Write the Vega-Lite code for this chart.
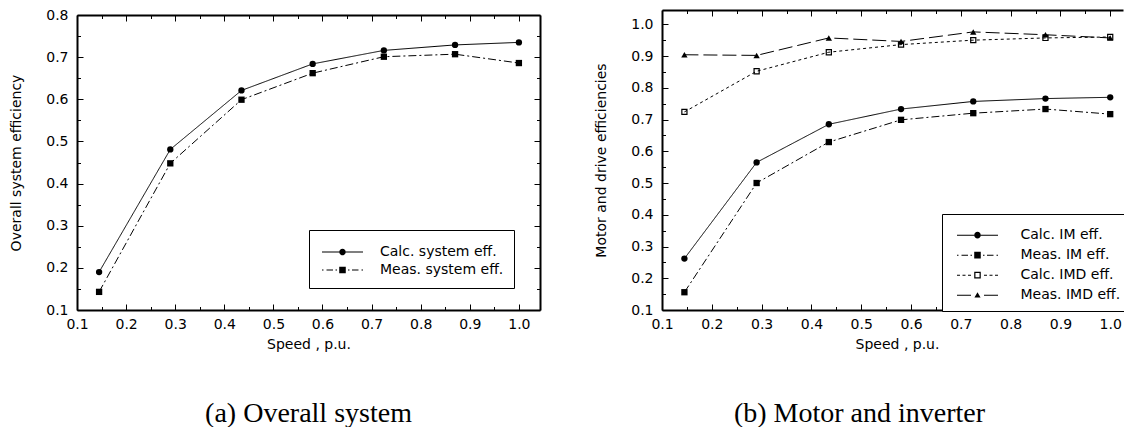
{
  "$schema": "https://vega.github.io/schema/vega-lite/v6.json",
  "background": "white",
  "padding": {"left": 9, "top": 8, "right": 0, "bottom": 0},
  "datasets": {
    "a": [
      {"speed": 0.145, "eff": 0.19, "series": "Calc. system eff."},
      {"speed": 0.29, "eff": 0.481, "series": "Calc. system eff."},
      {"speed": 0.435, "eff": 0.621, "series": "Calc. system eff."},
      {"speed": 0.58, "eff": 0.684, "series": "Calc. system eff."},
      {"speed": 0.725, "eff": 0.716, "series": "Calc. system eff."},
      {"speed": 0.87, "eff": 0.729, "series": "Calc. system eff."},
      {"speed": 1.0, "eff": 0.735, "series": "Calc. system eff."},
      {"speed": 0.145, "eff": 0.143, "series": "Meas. system eff."},
      {"speed": 0.29, "eff": 0.448, "series": "Meas. system eff."},
      {"speed": 0.435, "eff": 0.599, "series": "Meas. system eff."},
      {"speed": 0.58, "eff": 0.662, "series": "Meas. system eff."},
      {"speed": 0.725, "eff": 0.701, "series": "Meas. system eff."},
      {"speed": 0.87, "eff": 0.707, "series": "Meas. system eff."},
      {"speed": 1.0, "eff": 0.686, "series": "Meas. system eff."}
    ],
    "b": [
      {"speed": 0.145, "eff": 0.262, "series": "Calc. IM eff."},
      {"speed": 0.29, "eff": 0.565, "series": "Calc. IM eff."},
      {"speed": 0.435, "eff": 0.685, "series": "Calc. IM eff."},
      {"speed": 0.58, "eff": 0.733, "series": "Calc. IM eff."},
      {"speed": 0.725, "eff": 0.757, "series": "Calc. IM eff."},
      {"speed": 0.87, "eff": 0.766, "series": "Calc. IM eff."},
      {"speed": 1.0, "eff": 0.77, "series": "Calc. IM eff."},
      {"speed": 0.145, "eff": 0.156, "series": "Meas. IM eff."},
      {"speed": 0.29, "eff": 0.5, "series": "Meas. IM eff."},
      {"speed": 0.435, "eff": 0.629, "series": "Meas. IM eff."},
      {"speed": 0.58, "eff": 0.699, "series": "Meas. IM eff."},
      {"speed": 0.725, "eff": 0.72, "series": "Meas. IM eff."},
      {"speed": 0.87, "eff": 0.733, "series": "Meas. IM eff."},
      {"speed": 1.0, "eff": 0.717, "series": "Meas. IM eff."},
      {"speed": 0.145, "eff": 0.724, "series": "Calc. IMD eff."},
      {"speed": 0.29, "eff": 0.852, "series": "Calc. IMD eff."},
      {"speed": 0.435, "eff": 0.912, "series": "Calc. IMD eff."},
      {"speed": 0.58, "eff": 0.936, "series": "Calc. IMD eff."},
      {"speed": 0.725, "eff": 0.95, "series": "Calc. IMD eff."},
      {"speed": 0.87, "eff": 0.957, "series": "Calc. IMD eff."},
      {"speed": 1.0, "eff": 0.96, "series": "Calc. IMD eff."},
      {"speed": 0.145, "eff": 0.904, "series": "Meas. IMD eff."},
      {"speed": 0.29, "eff": 0.902, "series": "Meas. IMD eff."},
      {"speed": 0.435, "eff": 0.957, "series": "Meas. IMD eff."},
      {"speed": 0.58, "eff": 0.946, "series": "Meas. IMD eff."},
      {"speed": 0.725, "eff": 0.976, "series": "Meas. IMD eff."},
      {"speed": 0.87, "eff": 0.967, "series": "Meas. IMD eff."},
      {"speed": 1.0, "eff": 0.957, "series": "Meas. IMD eff."}
    ]
  },
  "spacing": 53,
  "resolve": {"scale": {"shape": "independent", "strokeDash": "independent"}},
  "hconcat": [
    {
      "spacing": 0,
      "bounds": "flush",
      "vconcat": [
        {"width": 10, "height": 5, "data": {"values": []}, "mark": "point"},
        {
          "width": 463,
          "height": 295,
          "title": {"text": "(a) Overall system", "orient": "bottom", "offset": 48, "anchor": "middle"},
          "data": {"name": "a"},
          "layer": [
            {
              "mark": {"type": "line", "color": "black", "strokeWidth": 1},
              "encoding": {
                "x": {"field": "speed", "type": "quantitative",
                  "scale": {"domain": [0.1, 1.043], "nice": false, "zero": false},
                  "axis": {"orient": "bottom", "values": [0.1,0.15,0.2,0.25,0.3,0.35,0.4,0.45,0.5,0.55,0.6,0.65,0.7,0.75,0.8,0.85,0.9,0.95,1.0],
                    "labelExpr": "abs(datum.value*10 - round(datum.value*10)) < 0.001 ? format(datum.value, '.1f') : ''",
                    "tickSize": {"condition": {"test": "abs(datum.value*10 - round(datum.value*10)) < 0.001", "value": -6}, "value": -3.5},
                    "labelPadding": 13, "title": "Speed , p.u.", "titlePadding": 4}},
                "y": {"field": "eff", "type": "quantitative",
                  "scale": {"domain": [0.1, 0.8], "nice": false, "zero": false},
                  "axis": {"orient": "left", "values": [0.1,0.15,0.2,0.25,0.3,0.35,0.4,0.45,0.5,0.55,0.6,0.65,0.7,0.75,0.8],
                    "labelExpr": "abs(datum.value*10 - round(datum.value*10)) < 0.001 ? format(datum.value, '.1f') : ''",
                    "tickSize": {"condition": {"test": "abs(datum.value*10 - round(datum.value*10)) < 0.001", "value": -6}, "value": -3.5},
                    "labelPadding": 15, "title": "Overall system efficiency", "titlePadding": 22}},
                "strokeDash": {"field": "series", "type": "nominal",
                  "scale": {"domain": ["Calc. system eff.", "Meas. system eff."], "range": [[1, 0], [8, 3, 2, 3]]},
                  "legend": null}
              }
            },
            {
              "mark": {"type": "point", "filled": true, "color": "black", "opacity": 1, "size": 40, "strokeWidth": 0},
              "encoding": {
                "x": {"field": "speed", "type": "quantitative", "axis": null},
                "y": {"field": "eff", "type": "quantitative", "axis": null},
                "shape": {"field": "series", "type": "nominal",
                  "scale": {"domain": ["Calc. system eff.", "Meas. system eff."], "range": ["circle", "square"]},
                  "legend": null}
              }
            },
            {
              "transform": [{"filter": "false"}],
              "mark": {"type": "point", "filled": true, "color": "black", "opacity": 1, "strokeWidth": 0},
              "encoding": {
                "x": {"field": "speed", "type": "quantitative",
                  "axis": {"orient": "top", "values": [0.1,0.15,0.2,0.25,0.3,0.35,0.4,0.45,0.5,0.55,0.6,0.65,0.7,0.75,0.8,0.85,0.9,0.95,1.0],
                    "labels": false, "title": null,
                    "tickSize": {"condition": {"test": "abs(datum.value*10 - round(datum.value*10)) < 0.001", "value": -6}, "value": -3.5}}},
                "y": {"field": "eff", "type": "quantitative",
                  "axis": {"orient": "right", "values": [0.1,0.15,0.2,0.25,0.3,0.35,0.4,0.45,0.5,0.55,0.6,0.65,0.7,0.75,0.8],
                    "labels": false, "title": null,
                    "tickSize": {"condition": {"test": "abs(datum.value*10 - round(datum.value*10)) < 0.001", "value": -6}, "value": -3.5}}},
                "shape": {"field": "series", "type": "nominal",
                  "scale": {"domain": ["Calc. system eff.", "Meas. system eff."],
                    "range": [
                      "M-1,-0.025H-0.16V0.025H-1Z M0.16,-0.025H1V0.025H0.16Z M0.16,0A0.16,0.16 0 1,1 -0.16,0A0.16,0.16 0 1,1 0.16,0Z",
                      "M-1,-0.025H-0.927V0.025H-1Z M-0.78,-0.025H-0.463V0.025H-0.78Z M-0.341,-0.025H-0.268V0.025H-0.341Z M-0.16,-0.16H0.16V0.16H-0.16Z M0.268,-0.025H0.341V0.025H0.268Z M0.463,-0.025H0.78V0.025H0.463Z M0.927,-0.025H1V0.025H0.927Z"
                    ]},
                  "legend": {"orient": "none", "legendX": 232, "legendY": 215, "title": " ", "titleFontSize": 3, "titlePadding": 1,
                    "padding": 10, "strokeColor": "black", "fillColor": "white", "symbolSize": 1681, "clipHeight": 16,
                    "symbolOffset": 3, "labelOffset": 17, "symbolStrokeWidth": 0, "symbolFillColor": "black", "symbolOpacity": 1,
                    "labelExpr": "datum.label + '   '"}}
              }
            }
          ],
          "resolve": {"scale": {"shape": "independent"}, "axis": {"x": "independent", "y": "independent"}}
        }
      ]
    },
    {
      "width": 461,
      "height": 300,
      "title": {"text": "(b) Motor and inverter", "orient": "bottom", "offset": 48, "anchor": "middle", "dx": -33},
      "data": {"name": "b"},
      "layer": [
        {
          "mark": {"type": "line", "color": "black", "strokeWidth": 1},
          "encoding": {
            "x": {"field": "speed", "type": "quantitative",
              "scale": {"domain": [0.1, 1.0257], "nice": false, "zero": false},
              "axis": {"orient": "bottom", "values": [0.1,0.15,0.2,0.25,0.3,0.35,0.4,0.45,0.5,0.55,0.6,0.65,0.7,0.75,0.8,0.85,0.9,0.95,1.0],
                "labelExpr": "abs(datum.value*10 - round(datum.value*10)) < 0.001 ? format(datum.value, '.1f') : ''",
                "tickSize": {"condition": {"test": "abs(datum.value*10 - round(datum.value*10)) < 0.001", "value": -6}, "value": -3.5},
                "labelPadding": 13, "title": "Speed , p.u.", "titlePadding": 4, "titleX": 235}},
            "y": {"field": "eff", "type": "quantitative",
              "scale": {"domain": [0.1, 1.045], "nice": false, "zero": false},
              "axis": {"orient": "left", "values": [0.1,0.15,0.2,0.25,0.3,0.35,0.4,0.45,0.5,0.55,0.6,0.65,0.7,0.75,0.8,0.85,0.9,0.95,1.0],
                "labelExpr": "abs(datum.value*10 - round(datum.value*10)) < 0.001 ? format(datum.value, '.1f') : ''",
                "tickSize": {"condition": {"test": "abs(datum.value*10 - round(datum.value*10)) < 0.001", "value": -6}, "value": -3.5},
                "labelPadding": 15, "title": "Motor and drive efficiencies", "titlePadding": 22}},
            "strokeDash": {"field": "series", "type": "nominal",
              "scale": {"domain": ["Calc. IM eff.", "Meas. IM eff.", "Calc. IMD eff.", "Meas. IMD eff."], "range": [[1, 0], [8, 3, 2, 3], [3, 3], [14, 5]]},
              "legend": null}
          }
        },
        {
          "mark": {"type": "point", "filled": true, "color": "black", "opacity": 1, "size": 40, "strokeWidth": 0},
          "encoding": {
            "x": {"field": "speed", "type": "quantitative", "axis": null},
            "y": {"field": "eff", "type": "quantitative", "axis": null},
            "shape": {"field": "series", "type": "nominal",
              "scale": {"domain": ["Calc. IM eff.", "Meas. IM eff.", "Calc. IMD eff.", "Meas. IMD eff."],
                "range": ["circle", "square", "M-1,-1H1V1H-1Z M-0.62,-0.62V0.62H0.62V-0.62Z", "triangle-up"]},
              "legend": null}
          }
        },
        {
          "transform": [{"filter": "false"}],
          "mark": {"type": "point", "filled": true, "color": "black", "opacity": 1, "strokeWidth": 0},
          "encoding": {
            "x": {"field": "speed", "type": "quantitative",
              "axis": {"orient": "top", "values": [0.1,0.15,0.2,0.25,0.3,0.35,0.4,0.45,0.5,0.55,0.6,0.65,0.7,0.75,0.8,0.85,0.9,0.95,1.0],
                "labels": false, "title": null,
                "tickSize": {"condition": {"test": "abs(datum.value*10 - round(datum.value*10)) < 0.001", "value": -6}, "value": -3.5}}},
            "y": {"field": "eff", "type": "quantitative", "axis": null},
            "shape": {"field": "series", "type": "nominal",
              "scale": {"domain": ["Calc. IM eff.", "Meas. IM eff.", "Calc. IMD eff.", "Meas. IMD eff."],
                "range": [
                  "M-1,-0.025H-0.16V0.025H-1Z M0.16,-0.025H1V0.025H0.16Z M0.16,0A0.16,0.16 0 1,1 -0.16,0A0.16,0.16 0 1,1 0.16,0Z",
                  "M-1,-0.025H-0.927V0.025H-1Z M-0.78,-0.025H-0.463V0.025H-0.78Z M-0.341,-0.025H-0.268V0.025H-0.341Z M-0.16,-0.16H0.16V0.16H-0.16Z M0.268,-0.025H0.341V0.025H0.268Z M0.463,-0.025H0.78V0.025H0.463Z M0.927,-0.025H1V0.025H0.927Z",
                  "M-1,-0.025H-0.854V0.025H-1Z M-0.732,-0.025H-0.585V0.025H-0.732Z M-0.463,-0.025H-0.317V0.025H-0.463Z M-0.16,-0.16H0.16V0.16H-0.16Z M-0.1,-0.1V0.1H0.1V-0.1Z M0.317,-0.025H0.463V0.025H0.317Z M0.585,-0.025H0.732V0.025H0.585Z M0.854,-0.025H1V0.025H0.854Z",
                  "M-1,-0.025H-0.317V0.025H-1Z M0,-0.14L0.15,0.12H-0.15Z M0.317,-0.025H1V0.025H0.317Z"
                ]},
              "legend": {"orient": "none", "legendX": 280, "legendY": 204, "title": " ", "titleFontSize": 4, "titlePadding": 2,
                "padding": 6.5, "strokeColor": "black", "fillColor": "white", "symbolSize": 1681, "clipHeight": 17.3,
                "symbolOffset": 8.5, "labelOffset": 22.5, "symbolStrokeWidth": 0, "symbolFillColor": "black", "symbolOpacity": 1,
                "labelExpr": "datum.label + '      '"}}
          }
        }
      ],
      "resolve": {"scale": {"shape": "independent"}, "axis": {"x": "independent", "y": "independent"}}
    }
  ],
  "config": {
    "view": {"stroke": null},
    "axis": {"labelFont": "DejaVu Sans", "labelFontSize": 14, "labelColor": "black",
      "titleFont": "DejaVu Sans", "titleFontSize": 14, "titleFontWeight": "normal", "titleColor": "black",
      "domainColor": "black", "domainWidth": 2, "tickColor": "black", "tickWidth": 1, "grid": false,
      "labelOverlap": false, "labelFlush": false, "labelBound": false},
    "legend": {"labelFont": "DejaVu Sans", "labelFontSize": 14, "labelColor": "black"},
    "title": {"font": "Liberation Serif", "fontSize": 28, "fontWeight": "normal", "color": "black"}
  }
}
